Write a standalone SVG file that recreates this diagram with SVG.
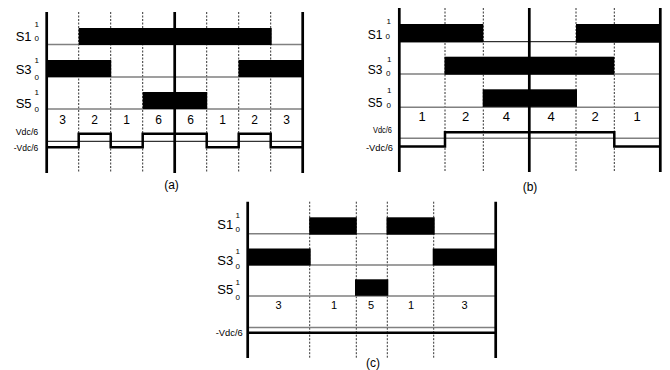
<svg xmlns="http://www.w3.org/2000/svg" width="670" height="370" viewBox="0 0 670 370">
<style>
text{font-family:"Liberation Sans",Arial,sans-serif;fill:#000}
.lab{font-size:13px}
.sm{font-size:8px}
.num{text-anchor:middle}
.v{font-size:8.5px}
.cap{font-size:12px;text-anchor:middle}
.base{stroke:#808080;stroke-width:1.4;fill:none}
.thin{stroke:#000;stroke-width:1;fill:none}
.axis{stroke:#000;stroke-width:2.7;fill:none}
.dash{stroke:#333;stroke-width:1;stroke-dasharray:2,1.5;fill:none}
.wave{stroke:#000;stroke-width:2.5;fill:none}
.bar{fill:#000}
</style>
<rect width="670" height="370" fill="#fff"/>

<g id="panel-a">
  <g id="a-grid">
    <path class="dash" d="M78.7,12V173M110.7,12V173M142.7,12V173M206.7,12V173M238.7,12V173M270.7,12V173"/>
    <path class="base" d="M46.7,44.5H302.7M46.7,77H302.7M46.7,109H302.7"/>
    <path class="thin" d="M46.7,141.3H302.7"/>
  </g>
  <g id="a-bars">
    <rect class="bar" x="78.7" y="28" width="193" height="17"/>
    <rect class="bar" x="46.7" y="60" width="64.5" height="17"/>
    <rect class="bar" x="238.5" y="60" width="64.2" height="17"/>
    <rect class="bar" x="142.7" y="92" width="64.5" height="17"/>
  </g>
  <path id="a-wave" class="wave" d="M46.7,147.3H78.7V133.7H110.7V147.3H142.7V133.7H206.7V147.3H238.7V133.7H270.7V147.3H302.7"/>
  <g id="a-axes">
    <path class="axis" d="M46.7,12V173M174.7,12V173M302.7,12V173"/>
  </g>
  <g id="a-labels">
    <text class="lab" x="15.7" y="41.3">S1</text><text class="sm" x="34.5" y="27.3">1</text><text class="sm" x="34.5" y="41.3">0</text>
    <text class="lab" x="15.7" y="74">S3</text><text class="sm" x="34.5" y="63.3">1</text><text class="sm" x="34.5" y="80">0</text>
    <text class="lab" x="15.7" y="108">S5</text><text class="sm" x="34.5" y="95">1</text><text class="sm" x="34.5" y="112.3">0</text>
    <text class="v" x="15.7" y="135" textLength="22.6" lengthAdjust="spacingAndGlyphs">Vdc/6</text>
    <text class="v" x="13.7" y="151" textLength="24.6" lengthAdjust="spacingAndGlyphs">-Vdc/6</text>
    <g font-size="12">
      <text class="num" x="62.7" y="124">3</text><text class="num" x="94.7" y="124">2</text>
      <text class="num" x="126.7" y="124">1</text><text class="num" x="158.7" y="124">6</text>
      <text class="num" x="190.7" y="124">6</text><text class="num" x="222.7" y="124">1</text>
      <text class="num" x="254.7" y="124">2</text><text class="num" x="286.7" y="124">3</text>
    </g>
    <text class="cap" x="171.5" y="189">(a)</text>
  </g>
</g>

<g id="panel-b">
  <g id="b-grid">
    <path class="dash" d="M445,8V172M483.3,8V172M576,8V172M614.3,8V172"/>
    <path class="thin" d="M399.3,41.7H660.3"/>
    <path class="base" d="M399.3,74H660.3M399.3,107.3H660.3M399.3,138.3H660.3"/>
  </g>
  <g id="b-bars">
    <rect class="bar" x="399.3" y="24" width="84" height="18.3"/>
    <rect class="bar" x="576" y="24" width="84.3" height="18.7"/>
    <rect class="bar" x="444.5" y="56.7" width="169.8" height="18"/>
    <rect class="bar" x="482.7" y="89.3" width="94.3" height="17.6"/>
  </g>
  <path id="b-wave" class="wave" d="M399.3,146.5H445V132.3H614.3V146.5H660.3"/>
  <g id="b-axes">
    <path class="axis" d="M399.3,8V172M529.3,8V172M660.3,8V172"/>
  </g>
  <g id="b-labels">
    <g font-size="12">
      <text x="367.7" y="39">S1</text>
      <text x="367.7" y="74">S3</text>
      <text x="367.7" y="106.7">S5</text>
    </g>
    <text class="sm" x="385.5" y="39">0</text><text class="sm" x="386.5" y="24">1</text>
    <text class="sm" x="386" y="76">0</text><text class="sm" x="387" y="61.7">1</text>
    <text class="sm" x="386.5" y="108.3">0</text><text class="sm" x="387" y="93.3">1</text>
    <text class="v" x="373" y="133" textLength="19" lengthAdjust="spacingAndGlyphs">Vdc/6</text>
    <text class="v" x="366" y="151" textLength="27" lengthAdjust="spacingAndGlyphs">-Vdc/6</text>
    <g font-size="13">
      <text class="num" x="422" y="121">1</text><text class="num" x="465.5" y="121">2</text>
      <text class="num" x="506.3" y="121">4</text><text class="num" x="551" y="121">4</text>
      <text class="num" x="595.2" y="121">2</text><text class="num" x="637" y="121">1</text>
    </g>
    <text class="cap" x="530" y="191">(b)</text>
  </g>
</g>

<g id="panel-c">
  <g id="c-grid">
    <path class="dash" d="M309.7,201.7V358M356.3,201.7V358M387.3,201.7V358M433.7,201.7V358"/>
    <path class="base" d="M247.7,233.7H495.7M247.7,265H495.7M247.7,296H495.7M247.7,327.5H495.7"/>
  </g>
  <g id="c-bars">
    <rect class="bar" x="309.2" y="217.3" width="47.6" height="17.4"/>
    <rect class="bar" x="386.5" y="217.3" width="48.2" height="17.4"/>
    <rect class="bar" x="247.7" y="248.5" width="63" height="17"/>
    <rect class="bar" x="432.7" y="248.5" width="63" height="17"/>
    <rect class="bar" x="355" y="279.3" width="33.3" height="16.5"/>
  </g>
  <path id="c-wave" class="wave" d="M247.7,332.8H495.7"/>
  <g id="c-axes">
    <path class="axis" d="M247.7,201.7V358M495.7,201.7V358"/>
  </g>
  <g id="c-labels">
    <text class="lab" x="217.3" y="229.3">S1</text><text class="sm" x="235.5" y="217.5">1</text><text class="sm" x="235.5" y="232">0</text>
    <text class="lab" x="217.3" y="264.5">S3</text><text class="sm" x="235.5" y="254">1</text><text class="sm" x="235.5" y="269">0</text>
    <text class="lab" x="217.3" y="293.5">S5</text><text class="sm" x="235.5" y="285">1</text><text class="sm" x="235.5" y="299.7">0</text>
    <text class="v" x="215.7" y="336" textLength="27" lengthAdjust="spacingAndGlyphs">-Vdc/6</text>
    <g font-size="11">
      <text class="num" x="278.5" y="309">3</text><text class="num" x="334" y="309">1</text>
      <text class="num" x="371" y="309">5</text><text class="num" x="411" y="309">1</text>
      <text class="num" x="464.5" y="309">3</text>
    </g>
    <text class="cap" x="373" y="366.5">(c)</text>
  </g>
</g>
</svg>
